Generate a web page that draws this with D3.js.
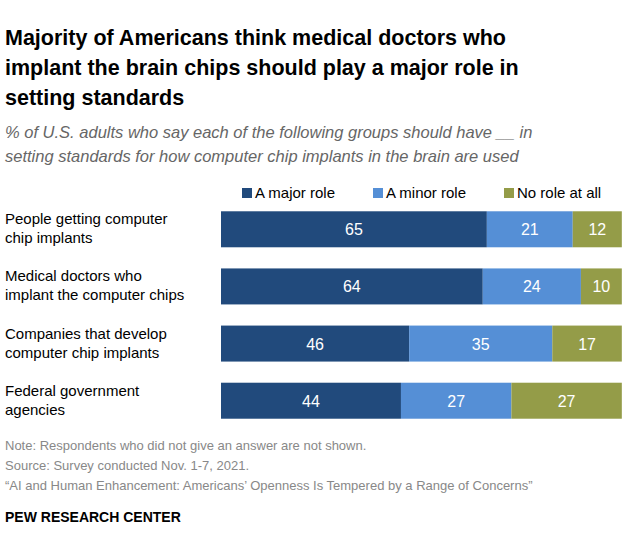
<!DOCTYPE html>
<html><head><meta charset="utf-8">
<script src="https://cdn.jsdelivr.net/npm/d3@7"></script>
<style>body{margin:0;background:#fff;font-family:"Liberation Sans",Arial,sans-serif}</style>
</head><body>
<script>
const groups = [["People getting computer","chip implants"],["Medical doctors who","implant the computer chips"],["Companies that develop","computer chip implants"],["Federal government","agencies"]];
const series = ["A major role","A minor role","No role at all"];
const major = [65,64,46,44];
const minor = [21,24,35,27];
const none = [12,10,17,27];
const colors = ["#214a7c","#558fd6","#949c48"];

const w = 640, h = 553;
const svg = d3.select("body").append("svg").attr("width", w).attr("height", h);

const title = ["Majority of Americans think medical doctors who","implant the brain chips should play a major role in","setting standards"];
title.forEach((t,i) => svg.append("text").attr("x",5).attr("y",45+i*30).text(t)
  .style("font-size","21.5px").style("font-weight","bold").style("fill","#000"));
const sub = ["% of U.S. adults who say each of the following groups should have __ in","setting standards for how computer chip implants in the brain are used"];
sub.forEach((t,i) => svg.append("text").attr("x",5).attr("y",138+i*24).text(t)
  .style("font-size","16.5px").style("font-style","italic").style("fill","#666"));

const x = d3.scaleLinear().domain([0,100]).range([221,630]);
const y = d3.scaleBand().domain(d3.range(groups.length)).range([201,429]).paddingInner(0.37).paddingOuter(0.18);

const rows = groups.map((g,i) => [major[i],minor[i],none[i]]);
rows.forEach((vals,i) => {
  let acc = 0;
  vals.forEach((v,j) => {
    svg.append("rect").attr("x",x(acc)).attr("y",y(i)).attr("width",x(acc+v)-x(acc)).attr("height",y.bandwidth()).attr("fill",colors[j]);
    svg.append("text").attr("x",x(acc+v/2)).attr("y",y(i)+y.bandwidth()/2+6).attr("text-anchor","middle")
      .text(v).style("font-size","16px").style("fill","#fff");
    acc += v;
  });
  groups[i].forEach((t,k) => svg.append("text").attr("x",5).attr("y",y(i)+13+k*19).text(t)
    .style("font-size","15px").style("fill","#000"));
});

const legX = [242,373,504];
series.forEach((s,j) => {
  svg.append("rect").attr("x",legX[j]).attr("y",188).attr("width",10).attr("height",10).attr("fill",colors[j]);
  svg.append("text").attr("x",legX[j]+13).attr("y",198).text(s).style("font-size","15px").style("fill","#000");
});

const notes = ["Note: Respondents who did not give an answer are not shown.","Source: Survey conducted Nov. 1-7, 2021.","\u201cAI and Human Enhancement: Americans\u2019 Openness Is Tempered by a Range of Concerns\u201d"];
notes.forEach((t,i) => svg.append("text").attr("x",5).attr("y",450+i*20).text(t)
  .style("font-size","13px").style("fill","#888"));
svg.append("text").attr("x",5).attr("y",522).text("PEW RESEARCH CENTER")
  .style("font-size","14px").style("font-weight","bold").style("fill","#000");
</script>
</body></html>
